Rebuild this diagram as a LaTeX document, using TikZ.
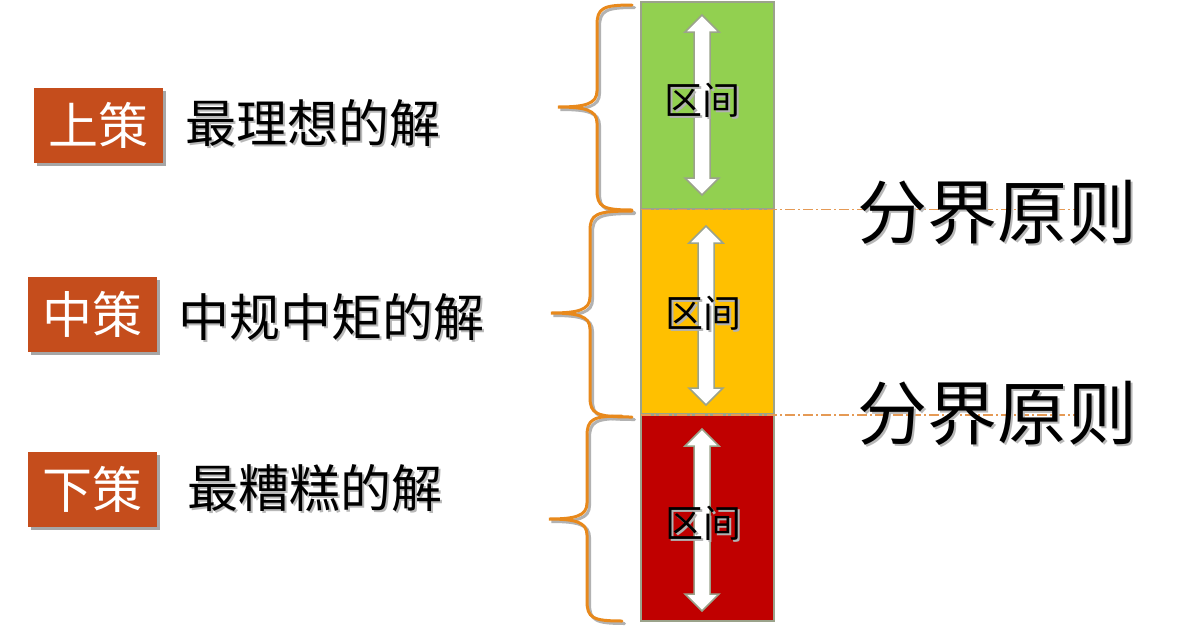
\documentclass[tikz,border=0pt]{standalone}
\usepackage{fontspec}
\newfontfamily\cjk{Noto Sans CJK SC}
\definecolor{tagc}{HTML}{C54D1C}
\definecolor{bandg}{HTML}{92D050}
\definecolor{bandy}{HTML}{FFC000}
\definecolor{bandr}{HTML}{C00000}
\definecolor{bandline}{HTML}{9BA38B}
\definecolor{bracec}{HTML}{E8891C}
\definecolor{dashc}{HTML}{E59A55}
\tikzset{
  lbl/.style={font=\cjk\fontsize{51}{51}\selectfont, text=black, inner sep=0, anchor=west},
  lblsh/.style={lbl, text=black!28},
  bigl/.style={font=\cjk\fontsize{70}{70}\selectfont, text=black, inner sep=0},
  biglsh/.style={bigl, text=black!28},
  tagbox/.style={fill=tagc, minimum width=129pt, minimum height=75pt, inner sep=0, text=white, font=\cjk\fontsize{50}{50}\selectfont},
  tagsh/.style={fill=black!35, minimum width=129pt, minimum height=75pt, inner sep=0},
  band/.style={draw=bandline, line width=1.6pt, minimum width=133pt, inner sep=0},
  arr/.style={draw=bandline, line width=1.5pt, fill=white, line join=miter},
  brc/.style={draw=bracec, line width=3pt, line cap=round},
  brcsh/.style={draw=black!30, line width=3pt, line cap=round},
  qj/.style={font=\cjk\fontsize{38}{38}\selectfont, text=black, inner sep=0},
  qjsh/.style={qj, text=black!30},
  border/.style={draw=dashc, line width=1.4pt, dash pattern=on 10pt off 3pt on 2pt off 3pt}
}
\newcommand\myarrow[3]{% cx, top, bottom
  \path[arr] (#1,#2) -- (#1+17,#2+17) -- (#1+8,#2+17) -- (#1+8,#3-17) -- (#1+17,#3-17)
    -- (#1,#3) -- (#1-17,#3-17) -- (#1-8,#3-17) -- (#1-8,#2+17) -- (#1-17,#2+17) -- cycle;}
\newcommand\mybrace[7]{% style, right, top, bottom, tipx, tipy, spine
  \path[#1] (#2,#3) .. controls (#7+6,#3) and (#7,#3+3) .. (#7,#3+20)
    -- (#7,#6-16) .. controls (#7,#6-3) and (#7-12,#6) .. (#5,#6)
    .. controls (#7-12,#6) and (#7,#6+3) .. (#7,#6+16)
    -- (#7,#4-20) .. controls (#7,#4-3) and (#7+6,#4) .. (#2,#4);}
\begin{document}
\begin{tikzpicture}[x=1pt,y=-1pt]
\useasboundingbox[fill=white] (0,0) rectangle (1189,630);

% bands
\node[band, fill=bandg, minimum height=207pt] (bg) at (707.5,105.5) {};
\node[band, fill=bandy, minimum height=205pt] (by) at (707.5,311.5) {};
\node[band, fill=bandr, minimum height=206pt] (br) at (707.5,518) {};

% boundary lines
\coordinate (d1s) at (641,209.5);
\coordinate (d1e) at (1080,209.5);
\coordinate (d2s) at (641,415);
\coordinate (d2e) at (1080,415);
\draw[border] (d1s) -- (d1e);
\draw[border] (d2s) -- (d2e);

% arrows
\myarrow{702}{15}{195}
\myarrow{706}{226}{405}
\myarrow{702}{429}{611}

% interval labels
\node[qjsh] (q1s) at (704,102) {区间};
\node[qj] (q1) at (702,100) {区间};
\node[qjsh] (q2s) at (705,315) {区间};
\node[qj] (q2) at (703,313) {区间};
\node[qjsh] (q3s) at (705,525) {区间};
\node[qj] (q3) at (703,523) {区间};

% braces
\begin{scope}[shift={(2.5,2.5)}]
\mybrace{brcsh}{632}{5}{210}{558}{107}{597}
\mybrace{brcsh}{632}{211}{417}{551}{313}{590}
\mybrace{brcsh}{622}{416}{621}{549}{519}{587}
\end{scope}
\mybrace{brc}{632}{5}{210}{558}{107}{597}
\mybrace{brc}{632}{211}{417}{551}{313}{590}
\mybrace{brc}{622}{416}{621}{549}{519}{587}

% tags
\node[tagsh] (t1s) at (101.5,128) {};
\node[tagbox] (t1) at (98.5,125) {上策};
\node[tagsh] (t2s) at (95.5,317.5) {};
\node[tagbox] (t2) at (92.5,314.5) {中策};
\node[tagsh] (t3s) at (95.5,492) {};
\node[tagbox] (t3) at (92.5,489) {下策};

% descriptions
\node[lblsh] (l1s) at (187,125) {最理想的解};
\node[lbl] (l1) at (185,123) {最理想的解};
\node[lblsh] (l2s) at (180,319) {中规中矩的解};
\node[lbl] (l2) at (178,317) {中规中矩的解};
\node[lblsh] (l3s) at (189,490) {最糟糕的解};
\node[lbl] (l3) at (187,488) {最糟糕的解};

% principles
\node[biglsh] (p1s) at (999,214) {分界原则};
\node[bigl] (p1) at (997,212) {分界原则};
\node[biglsh] (p2s) at (999,415) {分界原则};
\node[bigl] (p2) at (997,413) {分界原则};
\end{tikzpicture}
\end{document}
